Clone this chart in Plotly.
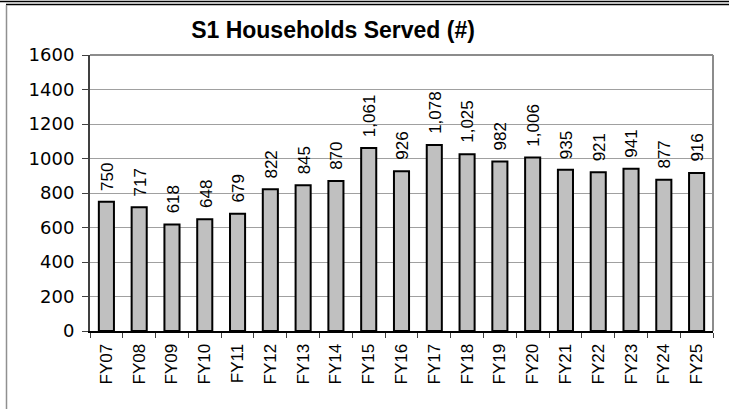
import plotly.graph_objects as go

# fiscal years and households served
years = ["FY07", "FY08", "FY09", "FY10", "FY11", "FY12", "FY13", "FY14", "FY15", "FY16",
         "FY17", "FY18", "FY19", "FY20", "FY21", "FY22", "FY23", "FY24", "FY25"]
households = [750, 717, 618, 648, 679, 822, 845, 870, 1061, 926,
              1078, 1025, 982, 1006, 935, 921, 941, 877, 916]
y_ticks = [0, 200, 400, 600, 800, 1000, 1200, 1400, 1600]

W, H = 729, 409
L, R, T, B = 90, 16, 55, 78  # plot area: x 90..713, y 55..331
FONT = "Liberation Sans, Arial, sans-serif"

fig = go.Figure()
fig.add_trace(go.Bar(
    x=years, y=households,
    marker=dict(color="#c0c0c0", line=dict(color="#000000", width=2)),
    hoverinfo="x+y",
))

# value labels above bars, rotated
for yr, val in zip(years, households):
    fig.add_annotation(
        x=yr, y=val, text=f"{val:,}", textangle=-90,
        showarrow=False, yanchor="bottom", xanchor="center", yshift=9, xshift=1,
        font=dict(family=FONT, size=17, color="#000000"),
    )


def px(x):
    return (x - L) / (W - L - R)


def py(y):
    return (H - B - y) / (H - T - B)


shapes = [
    # plot area top/right border
    dict(type="line", xref="paper", yref="paper", x0=0, x1=1, y0=1, y1=1,
         line=dict(color="#8c8c8c", width=2)),
    dict(type="line", xref="paper", yref="paper", x0=1, x1=1, y0=0, y1=1,
         line=dict(color="#8c8c8c", width=2)),
    # outer frame lines
    dict(type="line", xref="paper", yref="paper", x0=px(0), x1=px(W), y0=py(1.5), y1=py(1.5),
         line=dict(color="#000000", width=1.5)),
    dict(type="line", xref="paper", yref="paper", x0=px(6), x1=px(W), y0=py(4.5), y1=py(4.5),
         line=dict(color="#000000", width=1.5)),
    dict(type="line", xref="paper", yref="paper", x0=px(6.5), x1=px(6.5), y0=py(5), y1=py(H),
         line=dict(color="#909090", width=1.5)),
]

fig.update_layout(
    width=W, height=H,
    margin=dict(l=L, r=R, t=T, b=B),
    paper_bgcolor="white", plot_bgcolor="white",
    showlegend=False,
    bargap=0.54,
    title=dict(text="<b>S1 Households Served (#)</b>",
               font=dict(family=FONT, size=23, color="#000000"),
               x=333 / W, xanchor="center",
               y=1 - 30 / H, yanchor="middle"),
    font=dict(family=FONT, color="#000000"),
    shapes=shapes,
    xaxis=dict(
        tickangle=-90, tickfont=dict(size=17),
        showline=True, linecolor="#000000", linewidth=2,
        ticks="outside", ticklen=5, tickcolor="#404040", tickson="boundaries",
        ticklabelstandoff=4,
        showgrid=False,
    ),
    yaxis=dict(
        range=[0, 1600], tickvals=y_ticks,
        tickfont=dict(family="DejaVu Sans, sans-serif", size=18),
        showline=True, linecolor="#404040", linewidth=2,
        ticks="outside", ticklen=6, tickcolor="#404040",
        ticklabelstandoff=4,
        showgrid=True, gridcolor="#a0a0a0", gridwidth=1,
        zeroline=False,
    ),
)

# drop the default page margin so the figure sits at the window origin
fig.write_html("out.html", config={"displayModeBar": False},
               post_script="document.body.style.margin='0';")
